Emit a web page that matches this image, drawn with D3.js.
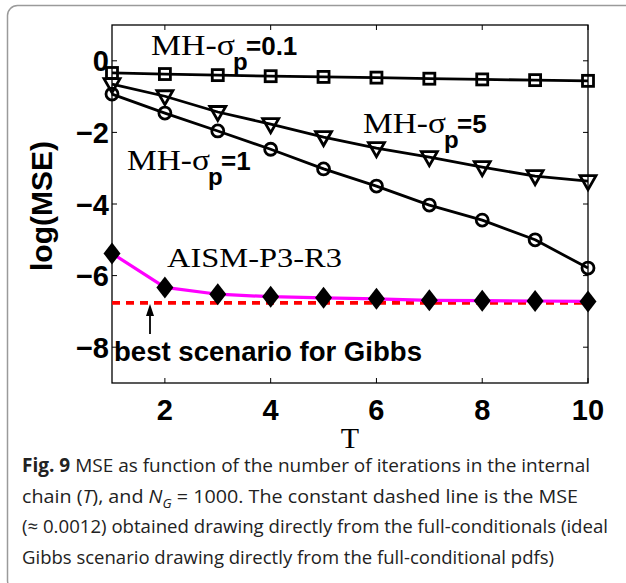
<!DOCTYPE html>
<html><head><meta charset="utf-8">
<script src="https://cdn.jsdelivr.net/npm/d3@7"></script>
<style>body{margin:0;background:#fff}svg{display:block}</style>
</head><body><svg id="c" width="626" height="583"></svg>
<script>
const T = [1,2,3,4,5,6,7,8,9,10];
const mhSigma01 = [-0.34,-0.37,-0.40,-0.43,-0.45,-0.47,-0.50,-0.52,-0.54,-0.56];
const mhSigma5  = [-0.65,-0.99,-1.43,-1.77,-2.13,-2.44,-2.69,-2.97,-3.22,-3.36];
const mhSigma1  = [-0.93,-1.46,-1.96,-2.47,-3.02,-3.50,-4.03,-4.45,-5.00,-5.79];
const aismP3R3  = [-5.38,-6.33,-6.52,-6.59,-6.62,-6.65,-6.69,-6.70,-6.71,-6.72];
const gibbsBest = -6.76;
const xTicks = [2,4,6,8,10];
const yTicks = [0,-2,-4,-6,-8];
const captionLines = [
  [["b","Fig. 9"],["r"," MSE as function of the number of iterations in the internal"]],
  [["r","chain ("],["i","T"],["r","), and "],["i","N"],["isub","G"],["r"," = 1000. The constant dashed line is the MSE"]],
  [["r","(≈ 0.0012) obtained drawing directly from the full-conditionals (ideal"]],
  [["r","Gibbs scenario drawing directly from the full-conditional pdfs)"]]
];

const svg = d3.select("#c");
svg.append("rect").attr("x",7.5).attr("y",5.5).attr("width",660).attr("height",585)
  .attr("rx",10).attr("fill","none").attr("stroke","#9a9a9a").attr("stroke-width",1.5);

const x = d3.scaleLinear().domain([1,10]).range([112,588]);
const y = d3.scaleLinear().domain([-9,1]).range([383,25]);

const g = svg.append("g");
g.append("rect").attr("x",x(1)).attr("y",y(1)).attr("width",x(10)-x(1)).attr("height",y(-9)-y(1))
  .attr("fill","none").attr("stroke","#000").attr("stroke-width",1.3);
const tl = 5;
xTicks.forEach(t=>{
  g.append("line").attr("x1",x(t)).attr("x2",x(t)).attr("y1",y(-9)).attr("y2",y(-9)-tl).attr("stroke","#000").attr("stroke-width",1);
  g.append("line").attr("x1",x(t)).attr("x2",x(t)).attr("y1",y(1)).attr("y2",y(1)+tl).attr("stroke","#000").attr("stroke-width",1);
});
yTicks.forEach(t=>{
  g.append("line").attr("x1",x(1)).attr("x2",x(1)+tl).attr("y1",y(t)).attr("y2",y(t)).attr("stroke","#000").attr("stroke-width",1);
  g.append("line").attr("x1",x(10)).attr("x2",x(10)-tl).attr("y1",y(t)).attr("y2",y(t)).attr("stroke","#000").attr("stroke-width",1);
});
const tickFont = "'Liberation Sans', Arial, sans-serif";
g.selectAll(".xt").data(xTicks).enter().append("text").attr("class","xt")
  .attr("x",d=>x(d)).attr("y",420).attr("text-anchor","middle")
  .attr("font-family",tickFont).attr("font-weight","bold").attr("font-size",29).text(d=>d);
g.selectAll(".yt").data(yTicks).enter().append("text").attr("class","yt")
  .attr("x",109).attr("y",d=>y(d)+10.5).attr("text-anchor","end")
  .attr("font-family",tickFont).attr("font-weight","bold").attr("font-size",29)
  .text(d=>d<0?"\u2212"+Math.abs(d):d);
svg.append("text").attr("transform","translate(52,206) rotate(-90)").attr("text-anchor","middle")
  .attr("font-family",tickFont).attr("font-weight","bold").attr("font-size",30).text("log(MSE)");
svg.append("text").attr("x",350).attr("y",448).attr("text-anchor","middle")
  .attr("font-family","'Liberation Serif', 'Times New Roman', serif").attr("font-size",30).text("T");

g.append("line").attr("x1",x(1)).attr("x2",x(10)).attr("y1",y(gibbsBest)).attr("y2",y(gibbsBest))
  .attr("stroke","#ff0000").attr("stroke-width",3.8).attr("stroke-dasharray","8,6");

const line = d3.line().x((d,i)=>x(T[i])).y(d=>y(d));
function series(vals,color,w){
  g.append("path").attr("d",line(vals)).attr("fill","none").attr("stroke",color).attr("stroke-width",w).attr("stroke-linejoin","round");
}
series(mhSigma01,"#000",2.8);
series(mhSigma5,"#000",2.8);
series(mhSigma1,"#000",2.8);
series(aismP3R3,"#ff00ff",3.2);

g.selectAll(".sq").data(mhSigma01).enter().append("rect")
  .attr("x",(d,i)=>x(T[i])-5.5).attr("y",d=>y(d)-5.5).attr("width",11).attr("height",11)
  .attr("fill","none").attr("stroke","#000").attr("stroke-width",2.8);
g.selectAll(".tri").data(mhSigma5).enter().append("path")
  .attr("d",(d,i)=>{const cx=x(T[i]),cy=y(d);return `M${cx-8},${cy-5.5}L${cx+8},${cy-5.5}L${cx},${cy+8.5}Z`;})
  .attr("fill","none").attr("stroke","#000").attr("stroke-width",2.8);
g.selectAll(".ci").data(mhSigma1).enter().append("circle")
  .attr("cx",(d,i)=>x(T[i])).attr("cy",d=>y(d)).attr("r",6)
  .attr("fill","none").attr("stroke","#000").attr("stroke-width",2.8);
g.selectAll(".dm").data(aismP3R3).enter().append("path")
  .attr("d",(d,i)=>{const cx=x(T[i]),cy=y(d);return `M${cx},${cy-11}L${cx+8.5},${cy}L${cx},${cy+11}L${cx-8.5},${cy}Z`;})
  .attr("fill","#000");

const serif = "'Liberation Serif', 'Times New Roman', serif";
function mhLabel(x0, base, serifLen, val){
  svg.append("text").attr("x",x0).attr("y",base).attr("font-family",serif).attr("font-size",30)
    .attr("textLength",serifLen).attr("lengthAdjust","spacingAndGlyphs").text("MH-σ");
  svg.append("text").attr("x",x0+serifLen-2).attr("y",base+15).attr("font-family",tickFont)
    .attr("font-weight","bold").attr("font-size",24).text("p");
  svg.append("text").attr("x",x0+serifLen+11).attr("y",base).attr("font-family",tickFont)
    .attr("font-weight","bold").attr("font-size",26).text("="+val);
}
mhLabel(151,55,84,"0.1");
mhLabel(363,133,83,"5");
mhLabel(127,170,83,"1");
svg.append("text").attr("x",167).attr("y",267).attr("font-family",serif).attr("font-size",28)
  .attr("textLength",175).attr("lengthAdjust","spacingAndGlyphs").text("AISM-P3-R3");
svg.append("text").attr("x",114).attr("y",361).attr("font-family",tickFont).attr("font-size",28)
  .attr("font-weight","bold").attr("textLength",308).attr("lengthAdjust","spacingAndGlyphs").text("best scenario for Gibbs");
svg.append("line").attr("x1",150).attr("x2",150).attr("y1",334).attr("y2",307).attr("stroke","#000").attr("stroke-width",1.8);
svg.append("path").attr("d","M146,316 L150,304 L154,316 Z").attr("fill","#000");

const cap = svg.append("g").attr("font-family","'Open Sans', sans-serif").attr("font-size",19).attr("fill","#222");
const capLens = [568, 556, 586, 532];
captionLines.forEach((ln,k)=>{
  const t = cap.append("text").attr("x",22).attr("y",472+k*30.5)
    .attr("textLength",capLens[k]).attr("lengthAdjust","spacingAndGlyphs");
  ln.forEach(([s,txt])=>{
    const ts = t.append("tspan").text(txt);
    if(s==="b") ts.attr("font-weight","bold");
    if(s==="i") ts.attr("font-style","italic");
    if(s==="isub") ts.attr("font-style","italic").attr("font-size",13).attr("dy",5);
    if(s==="r" && k===1 && txt.startsWith(" =")) ts.attr("dy",-5);
  });
});
</script></body></html>
